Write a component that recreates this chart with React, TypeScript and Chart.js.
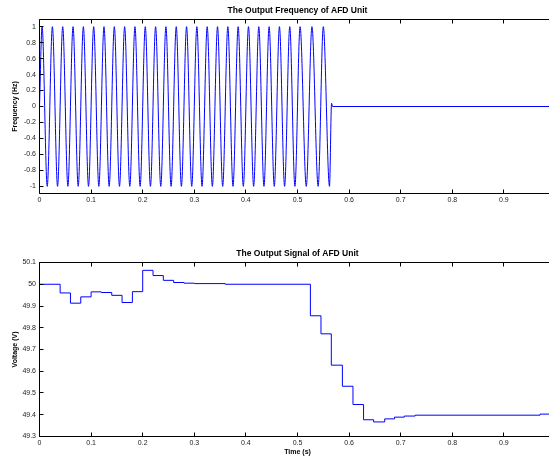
import React, { useEffect, useRef } from "react";
import { Chart, registerables } from "chart.js";

Chart.register(...registerables);

// ---- Top plot: extrema of the AFD output waveform (time in s) ----
const peakTimes = [
  0.005, 0.025, 0.045, 0.065, 0.085, 0.105, 0.125, 0.145, 0.165, 0.185,
  0.205, 0.225, 0.245, 0.265, 0.285, 0.305, 0.325, 0.345, 0.365, 0.385,
  0.405, 0.425, 0.445, 0.465, 0.485, 0.505, 0.528, 0.55,
];
const troughTimes = [
  0.015, 0.035, 0.055, 0.075, 0.095, 0.115, 0.135, 0.155, 0.175, 0.195,
  0.215, 0.235, 0.255, 0.275, 0.295, 0.315, 0.335, 0.355, 0.375, 0.395,
  0.415, 0.435, 0.455, 0.475, 0.495, 0.517, 0.54, 0.562,
];
const peakValue = 1;
const troughValue = -1;
const startTimes = [0];
const startValues = [0];
const tailTimes = [0.566, 0.568, 1.0];
const tailValues = [0.04, 0, 0];

// ---- Bottom plot: stepped output signal ----
const stepTimes = [
  0, 0.04, 0.06, 0.08, 0.1, 0.12, 0.14, 0.16, 0.18, 0.2, 0.22, 0.24, 0.26,
  0.28, 0.3, 0.36, 0.525, 0.5455, 0.5655, 0.587, 0.6075, 0.628, 0.6475, 0.669,
  0.688, 0.707, 0.728, 0.97, 1.0,
];
const stepValues = [
  50.0, 49.96, 49.913, 49.942, 49.965, 49.962, 49.949, 49.916, 49.966, 50.064,
  50.04, 50.018, 50.008, 50.005, 50.003, 50.0, 49.855, 49.772, 49.628, 49.531,
  49.447, 49.377, 49.367, 49.381, 49.389, 49.394, 49.398, 49.403, 49.403,
];

// ---- Tick labels ----
const xTicks = [0, 0.1, 0.2, 0.3, 0.4, 0.5, 0.6, 0.7, 0.8, 0.9];
const freqTicks = [-1, -0.8, -0.6, -0.4, -0.2, 0, 0.2, 0.4, 0.6, 0.8, 1];
const voltTicks = [49.3, 49.4, 49.5, 49.6, 49.7, 49.8, 49.9, 50, 50.1];

const topTitle = "The Output Frequency of AFD Unit";
const bottomTitle = "The Output Signal of AFD Unit";
const topYLabel = "Frequency (Hz)";
const bottomYLabel = "Voltage (V)";
const xLabel = "Time (s)";

const FONT = "'Liberation Sans', Arial, Helvetica, sans-serif";
const CANVAS_W = 580;

const fmt = (v: number) => String(Number(Number(v).toFixed(1)));

const axesBox = {
  id: "axesBox",
  afterDraw(chart: any) {
    const { ctx, chartArea: a, scales } = chart;
    const snap = (p: number) => Math.round(p - 0.5) + 0.5;
    ctx.save();
    ctx.strokeStyle = "#000";
    ctx.lineWidth = 1;
    ctx.beginPath();
    const L = snap(a.left), R = snap(a.right), T = snap(a.top), B = snap(a.bottom);
    ctx.moveTo(L, T); ctx.lineTo(R, T); ctx.lineTo(R, B); ctx.lineTo(L, B); ctx.closePath();
    const tl = 4;
    scales.x.ticks.forEach((t: any) => {
      const px = snap(scales.x.getPixelForValue(t.value));
      ctx.moveTo(px, B); ctx.lineTo(px, B - tl);
      ctx.moveTo(px, T); ctx.lineTo(px, T + tl);
    });
    scales.y.ticks.forEach((t: any) => {
      const py = snap(scales.y.getPixelForValue(t.value));
      ctx.moveTo(L, py); ctx.lineTo(L + tl, py);
      ctx.moveTo(R, py); ctx.lineTo(R - tl, py);
    });
    ctx.stroke();
    ctx.restore();
  },
};

function makeOptions(opts: {
  title: string;
  titlePadTop: number;
  titlePadBottom: number;
  yMin: number;
  yMax: number;
  yTicks: number[];
  yLabel: string;
  xLabel?: string;
  xAxisHeight: number;
}) {
  return {
    responsive: false,
    animation: false as const,
    devicePixelRatio: 1,
    layout: { padding: { left: 0, top: 0, bottom: 0, right: CANVAS_W - 555.5 } },
    plugins: {
      legend: { display: false },
      tooltip: { enabled: false },
      title: {
        display: true,
        text: opts.title,
        fullSize: false,
        color: "#000",
        font: { family: FONT, size: 8.5, weight: "bold" as const },
        padding: { top: opts.titlePadTop, bottom: opts.titlePadBottom },
      },
    },
    scales: {
      x: {
        type: "linear" as const,
        min: 0,
        max: 1,
        grid: { display: false, drawTicks: false },
        border: { display: false },
        afterBuildTicks: (s: any) => { s.ticks = xTicks.map((value) => ({ value })); },
        afterFit: (s: any) => { s.height = opts.xAxisHeight; },
        ticks: {
          padding: 2,
          color: "#222",
          font: { family: FONT, size: 7 },
          maxRotation: 0,
          autoSkip: false,
          callback: (v: any) => fmt(v),
        },
        title: {
          display: !!opts.xLabel,
          text: opts.xLabel || "",
          color: "#000",
          font: { family: FONT, size: 7, weight: "bold" as const },
          padding: { top: 0, bottom: 1.8 },
        },
      },
      y: {
        type: "linear" as const,
        min: opts.yMin,
        max: opts.yMax,
        grid: { display: false, drawTicks: false },
        border: { display: false },
        afterBuildTicks: (s: any) => { s.ticks = opts.yTicks.map((value) => ({ value })); },
        afterFit: (s: any) => { s.width = 39.5; },
        ticks: {
          padding: 3.5,
          color: "#222",
          font: { family: FONT, size: 7 },
          autoSkip: false,
          callback: (v: any) => fmt(v),
        },
        title: {
          display: true,
          text: opts.yLabel,
          color: "#000",
          font: { family: FONT, size: 7, weight: "bold" as const },
          padding: { top: 11.3, bottom: 0 },
        },
      },
    },
  };
}

export default function App() {
  const topRef = useRef<HTMLCanvasElement | null>(null);
  const botRef = useRef<HTMLCanvasElement | null>(null);

  useEffect(() => {
    const wave: { x: number; y: number }[] = [];
    startTimes.forEach((t, i) => wave.push({ x: t, y: startValues[i] }));
    const extrema: { x: number; y: number }[] = [];
    peakTimes.forEach((t) => extrema.push({ x: t, y: peakValue }));
    troughTimes.forEach((t) => extrema.push({ x: t, y: troughValue }));
    extrema.sort((a, b) => a.x - b.x);
    wave.push(...extrema);
    tailTimes.forEach((t, i) => wave.push({ x: t, y: tailValues[i] }));

    const steps = stepTimes.map((t, i) => ({ x: t, y: stepValues[i] }));

    const top = new Chart(topRef.current as HTMLCanvasElement, {
      type: "line",
      data: {
        datasets: [
          {
            data: wave,
            borderColor: "#0000ff",
            borderWidth: 1,
            pointRadius: 0,
            fill: false,
            cubicInterpolationMode: "monotone",
          },
        ],
      },
      options: makeOptions({
        title: topTitle,
        titlePadTop: 5.9,
        titlePadBottom: 3.4,
        yMin: -1.09,
        yMax: 1.09,
        yTicks: freqTicks,
        yLabel: topYLabel,
        xAxisHeight: 230 - 193.5,
      }) as any,
      plugins: [axesBox],
    });

    const bot = new Chart(botRef.current as HTMLCanvasElement, {
      type: "line",
      data: {
        datasets: [
          {
            data: steps,
            borderColor: "#0000ff",
            borderWidth: 1,
            pointRadius: 0,
            fill: false,
            stepped: "before",
          },
        ],
      },
      options: makeOptions({
        title: bottomTitle,
        titlePadTop: 18.9,
        titlePadBottom: 3.4,
        yMin: 49.3,
        yMax: 50.1,
        yTicks: voltTicks,
        yLabel: bottomYLabel,
        xLabel: xLabel,
        xAxisHeight: 228 - 206.5,
      }) as any,
      plugins: [axesBox],
    });

    return () => {
      top.destroy();
      bot.destroy();
    };
  }, []);

  return (
    <div
      style={{
        position: "fixed",
        left: 0,
        top: 0,
        width: 549,
        height: 458,
        overflow: "hidden",
        background: "#fff",
      }}
    >
      <canvas
        ref={topRef}
        width={CANVAS_W}
        height={230}
        style={{ position: "absolute", left: 0, top: 0 }}
      />
      <canvas
        ref={botRef}
        width={CANVAS_W}
        height={228}
        style={{ position: "absolute", left: 0, top: 230 }}
      />
    </div>
  );
}
